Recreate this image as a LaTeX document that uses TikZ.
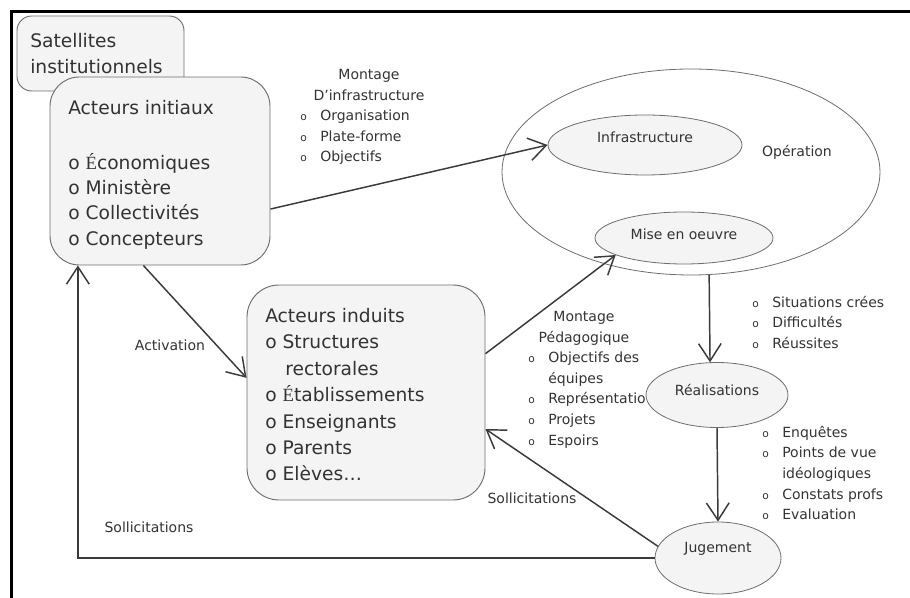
\documentclass[tikz,border=0pt]{standalone}
\usepackage{fontspec}
\setmainfont{DejaVu Sans}
\newfontfamily\serifE{Liberation Serif}
\usetikzlibrary{shapes.geometric,arrows.meta}

\definecolor{fondgris}{HTML}{F4F4F4}
\definecolor{bordgris}{HTML}{6E6E6E}
\definecolor{traitgris}{HTML}{3A3A3A}
\definecolor{textegris}{HTML}{333333}

% petite puce des listes
\newcommand{\puce}{\makebox[15pt][l]{\fontsize{8}{8}\selectfont o}}

\tikzset{
  boite/.style={draw=bordgris, fill=fondgris, line width=0.7pt},
  bulle/.style={ellipse, draw=bordgris, fill=fondgris, line width=0.6pt, inner sep=3pt,
    font=\fontsize{10.5}{15.4}\selectfont, text=textegris},
  fleche/.style={draw=traitgris, line width=1.1pt, -{Straight Barb[length=13pt,width=17pt]}},
  grand/.style={font=\fontsize{14}{19.8}\selectfont, text=textegris, align=left,
    inner sep=0pt, anchor=north west},
  petit/.style={font=\fontsize{10.5}{15.4}\selectfont, text=textegris, inner sep=0pt},
}

\begin{document}
\begin{tikzpicture}[x=0.75pt, y=-0.75pt]
\useasboundingbox (0,0) rectangle (910,598);
% cadre
\draw[line width=2.25pt] (11,598) -- (11,12) -- (910,12);

% boites des acteurs
\node[boite, rounded corners=11pt, minimum width=125.25pt, minimum height=56.25pt] (sat) at (100.5,53.5) {};
\node[grand] (sattxt) at (30,33) {Satellites\\institutionnels};
\node[boite, rounded corners=22pt, minimum width=165pt, minimum height=141pt] (init) at (160,171) {};
\node[grand, font=\fontsize{14}{19}\selectfont] (inittxt) at (68,100) {Acteurs initiaux\\[22pt]o {\serifE É}conomiques\\o Ministère\\o Collectivités\\o Concepteurs};
\node[boite, rounded corners=24pt, minimum width=178.5pt, minimum height=161.25pt] (induits) at (366,392.5) {};
\node[grand] (induitstxt) at (265,308) {Acteurs induits\\o Structures\\\hspace*{15pt}rectorales\\o {\serifE É}tablissements\\o Enseignants\\o Parents\\o Elèves…};

% operation
\node[ellipse, draw=bordgris, fill=white, line width=0.6pt, minimum width=283.5pt, minimum height=154.5pt] (oper) at (691,172) {};
\node[petit] (operlbl) at (797,152) {Opération};
\node[bulle, minimum width=145.5pt, minimum height=45pt, text depth=12.4pt] (infra) at (645,145) {Infrastructure};
\node[bulle, minimum width=133.5pt, minimum height=39pt, text depth=5pt] (mise) at (684,238) {Mise en oeuvre};

% listes
\node[petit, align=center, anchor=north] (montinfra) at (369,69.5) {Montage\\D’infrastructure};
\node[petit, align=left, anchor=north west] (listinfra) at (300,110) {\puce Organisation\\\puce Plate-forme\\\puce Objectifs};
\node[petit, align=left, anchor=north west] (listsit) at (752,296) {\puce Situations crées\\\puce Difficultés\\\puce Réussites};
\node[petit, align=center, anchor=north] (montpeda) at (584,311) {Montage\\Pédagogique};
\node[petit, align=left, anchor=north west] (listpeda) at (528,352) {\puce Objectifs des\\\hspace*{15pt}équipes\\\puce Représentatio\\\puce Projets\\\puce Espoirs};
\node[petit, align=left, anchor=north west] (listjuge) at (762,426) {\puce Enquêtes\\\puce Points de vue\\\hspace*{15pt}idéologiques\\\puce Constats profs\\\puce Evaluation};

\node[bulle, minimum width=106.5pt, minimum height=48.75pt, text depth=8pt] (real) at (717,395) {Réalisations};
\node[bulle, minimum width=94.5pt, minimum height=54pt, text depth=15.4pt] (juge) at (718,558) {Jugement};

% fleches
\draw[fleche] (init.-19.5) -- (infra.west);
\draw[fleche] (induits.18.8) -- (mise.194);
\draw[fleche] (init.260) -- (induits.173);
\draw[fleche] (juge.169.6) -- (induits.-17.5);
\draw[fleche] (juge.west) -| (init.229.2);
\draw[fleche] (oper.280.5) -- (real.102);
\draw[fleche] (real.south) -- (juge.north);

\node[petit] (activ) at (170,345) {Activation};
\node[petit] (sollg) at (149,527) {Sollicitations};
\node[petit] (solld) at (532,498) {Sollicitations};
\end{tikzpicture}
\end{document}
